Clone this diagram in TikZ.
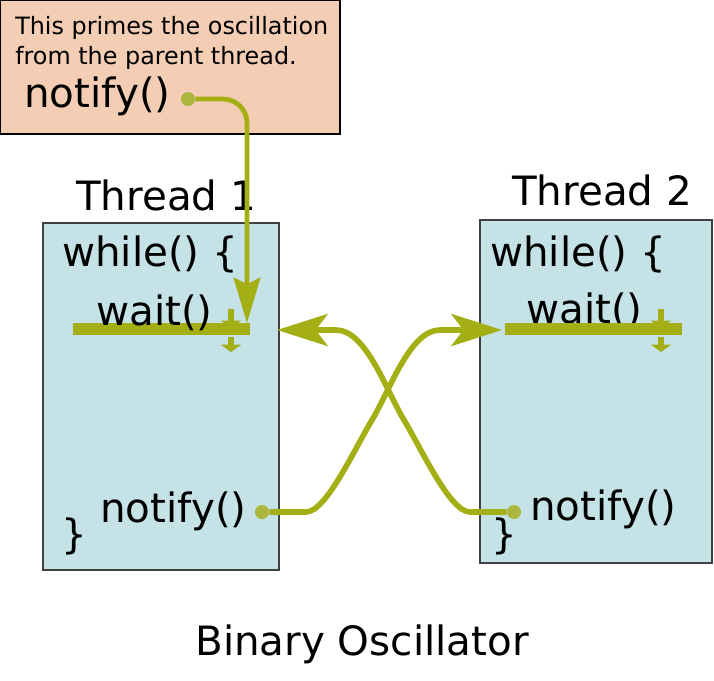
\documentclass[tikz,border=0pt]{standalone}
\usepackage{fontspec}
\setmainfont{DejaVu Sans}
\usetikzlibrary{arrows.meta}

\definecolor{olive}{RGB}{163,175,20}
\definecolor{dotolive}{RGB}{170,182,60}
\definecolor{peach}{RGB}{243,205,180}
\definecolor{threadblue}{RGB}{197,226,230}

\begin{document}
\begin{tikzpicture}[x=0.75pt,y=-0.75pt,
    big/.style={anchor=base west,inner sep=0pt,font=\fontsize{30.3}{35}\selectfont},
    small/.style={anchor=base west,inner sep=0pt,font=\fontsize{17.9}{21}\selectfont},
    wire/.style={draw=olive,line width=4.2pt},
    bar/.style={draw=olive,line width=9pt},
    dot/.style={circle,fill=dotolive,inner sep=0pt,minimum size=10.5pt},
    bigtip/.style={-{Stealth[length=38pt,width=24pt,inset=9pt]}},
    toptip/.style={-{Stealth[length=34pt,width=20pt,inset=5pt]}},
    smalltip/.style={-{Triangle[length=5.5pt,width=15pt]}},
    tbox/.style={fill=threadblue,draw=black!75,line width=0.9pt}]
  \useasboundingbox (0,0) rectangle (714,681);

  % parent thread
  \draw[fill=peach,line width=0.8pt] (0.5,0.5) rectangle (340,134);
  \node[small] (note1) at (15,35) {This primes the oscillation};
  \node[small] (note2) at (15,65) {from the parent thread.};
  \node[big] (notify0) at (24,108) {notify()};

  % the two threads
  \draw[tbox] (43,223) rectangle (279,570);
  \draw[tbox] (480,220) rectangle (712,563);
  \node[big] (thread1) at (76,210) {Thread 1};
  \node[big] (thread2) at (512,205) {Thread 2};

  \draw[bar] (73,329) -- (250,329);
  \node[big] (while1) at (62,267) {while() \{};
  \node[big] (wait1) at (96,325) {wait()};
  \node[big] (notify1) at (100,522) {notify()};
  \node[big] (close1) at (61,548) {\}};

  \node[big] (while2) at (490,267) {while() \{};
  \node[big] (wait2) at (526,323) {wait()};
  \draw[bar] (505,329) -- (682,329);
  \node[big] (notify2) at (530,520) {notify()};
  \node[big] (close2) at (491,548) {\}};

  \draw[wire,line width=3.8pt,smalltip] (231,309) -- (231,328);
  \draw[wire,line width=3.8pt,smalltip] (231,337) -- (231,352);
  \draw[wire,line width=3.8pt,smalltip] (661,309) -- (661,328);
  \draw[wire,line width=3.8pt,smalltip] (661,337) -- (661,352);

  % connectors
  \node[dot] (d0) at (188,99) {};
  \node[dot] (d1) at (262,512) {};
  \node[dot] (d2) at (514,512) {};
  \coordinate (in1) at (277,330);
  \coordinate (in2) at (502,330);
  \coordinate (top1) at (247,323);

  \draw[wire,line width=3.6pt,toptip,rounded corners=18pt] (d0) -- (247,99) -- (top1);
  \draw[wire,bigtip] (d1) -- (306,512) .. controls (326,512) and (354,450) .. (372,420)
    .. controls (390,390) and (410,330) .. (440,330) -- (in2);
  \draw[wire,bigtip] (d2) -- (470,512) .. controls (450,512) and (422,450) .. (404,420)
    .. controls (386,390) and (366,330) .. (336,330) -- (in1);

  \node[big,anchor=base] (title) at (362,655) {Binary Oscillator};
\end{tikzpicture}
\end{document}
